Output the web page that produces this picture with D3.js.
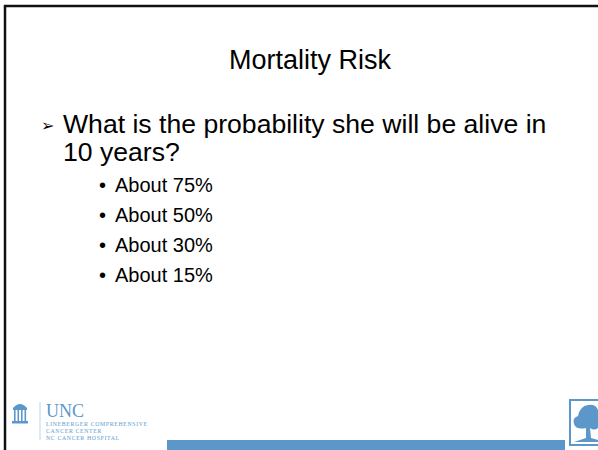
<!DOCTYPE html>
<meta charset="utf-8">
<style>
body { margin: 0; background: #fff; }
svg { display: block; background: #fff; }
text { font-family: "Liberation Sans", Arial, sans-serif; fill: #000; }
.logo-small { font-family: "Liberation Serif", "DejaVu Serif", serif; fill: #5b9bd0; font-size: 5.8px; letter-spacing: 0.65px; }
</style>
<body>
<script src="https://d3js.org/d3.v7.min.js"></script>
<script>
// slide text
var title = "Mortality Risk";
var questionLines = ["What is the probability she will be alive in", "10 years?"];
var options = ["About 75%", "About 50%", "About 30%", "About 15%"];
var footerLines = ["LINEBERGER COMPREHENSIVE", "CANCER CENTER", "NC CANCER HOSPITAL"];

var width = 598, height = 450;
var blue = "#5b97c9";

var svg = d3.select("body").append("svg")
    .attr("width", width)
    .attr("height", height);

// slide frame (top and left edges only visible)
svg.append("line").attr("x1", 4).attr("x2", width).attr("y1", 6).attr("y2", 6)
    .attr("stroke", "#111").attr("stroke-width", 2.5);
svg.append("line").attr("x1", 5).attr("x2", 5).attr("y1", 5).attr("y2", height)
    .attr("stroke", "#111").attr("stroke-width", 2.5);

// title
svg.append("text")
    .attr("x", 310).attr("y", 69)
    .attr("text-anchor", "middle")
    .style("font-size", "27px")
    .text(title);

// question lines
var yQ = d3.scaleLinear().domain([0, 1]).range([133, 161]);
svg.append("text")
    .attr("x", 41).attr("y", yQ(0) - 2)
    .style("font-family", "DejaVu Sans")
    .style("font-size", "16px")
    .text("\u27A2");
svg.selectAll("text.q")
    .data(questionLines)
    .enter().append("text")
    .attr("class", "q")
    .attr("x", 63)
    .attr("y", function(d, i) { return yQ(i); })
    .style("font-size", "26.6px")
    .text(function(d) { return d; });

// answer options
var yO = d3.scaleLinear().domain([0, 1]).range([192, 222]);
var opt = svg.selectAll("g.opt")
    .data(options)
    .enter().append("g")
    .attr("class", "opt")
    .attr("transform", function(d, i) { return "translate(0," + yO(i) + ")"; });
opt.append("text").attr("x", 99).style("font-size", "20px").text("\u2022");
opt.append("text").attr("x", 115).style("font-size", "20px").text(function(d) { return d; });

// UNC logo: Old Well icon
var well = svg.append("g").attr("fill", blue);
well.append("path").attr("d", "M13,408 Q20,400 27,408 Z");
well.append("rect").attr("x", 13).attr("y", 408).attr("width", 14).attr("height", 2);
[14, 17.5, 21, 24.5].forEach(function(cx) {
  well.append("rect").attr("x", cx).attr("y", 410).attr("width", 1.6).attr("height", 11);
});
well.append("rect").attr("x", 12).attr("y", 421).attr("width", 16).attr("height", 2.5);

svg.append("line").attr("x1", 40).attr("x2", 40).attr("y1", 402).attr("y2", 440)
    .attr("stroke", "#a9c9e6").attr("stroke-width", 0.8);

svg.append("text")
    .attr("x", 46).attr("y", 417)
    .style("font-family", "Liberation Serif, serif")
    .style("font-size", "18px")
    .style("fill", blue)
    .text("UNC");

var yF = d3.scaleLinear().domain([0, 1, 2]).range([426, 433, 440]);
svg.selectAll("text.foot")
    .data(footerLines)
    .enter().append("text")
    .attr("class", "logo-small")
    .attr("x", 46)
    .attr("y", function(d, i) { return yF(i); })
    .text(function(d) { return d; });

// bottom bar
svg.append("rect").attr("x", 167).attr("y", 440).attr("width", 398).attr("height", 10)
    .attr("fill", blue);

// tree logo
var tree = svg.append("g");
tree.append("rect").attr("x", 569).attr("y", 399).attr("width", 29).attr("height", 47)
    .attr("fill", blue);
tree.append("rect").attr("x", 571).attr("y", 401).attr("width", 27).attr("height", 43)
    .attr("fill", "#fff");
tree.append("path")
    .attr("fill", blue)
    .attr("d", "M578,416 Q580,406 588,405 Q596,404 598,410 L598,428 Q594,431 590,428 L591,438 L598,440 L598,442 L574,442 L586,438 L586,428 Q576,430 574,424 Q572,418 578,416 Z");
</script>
</body>
